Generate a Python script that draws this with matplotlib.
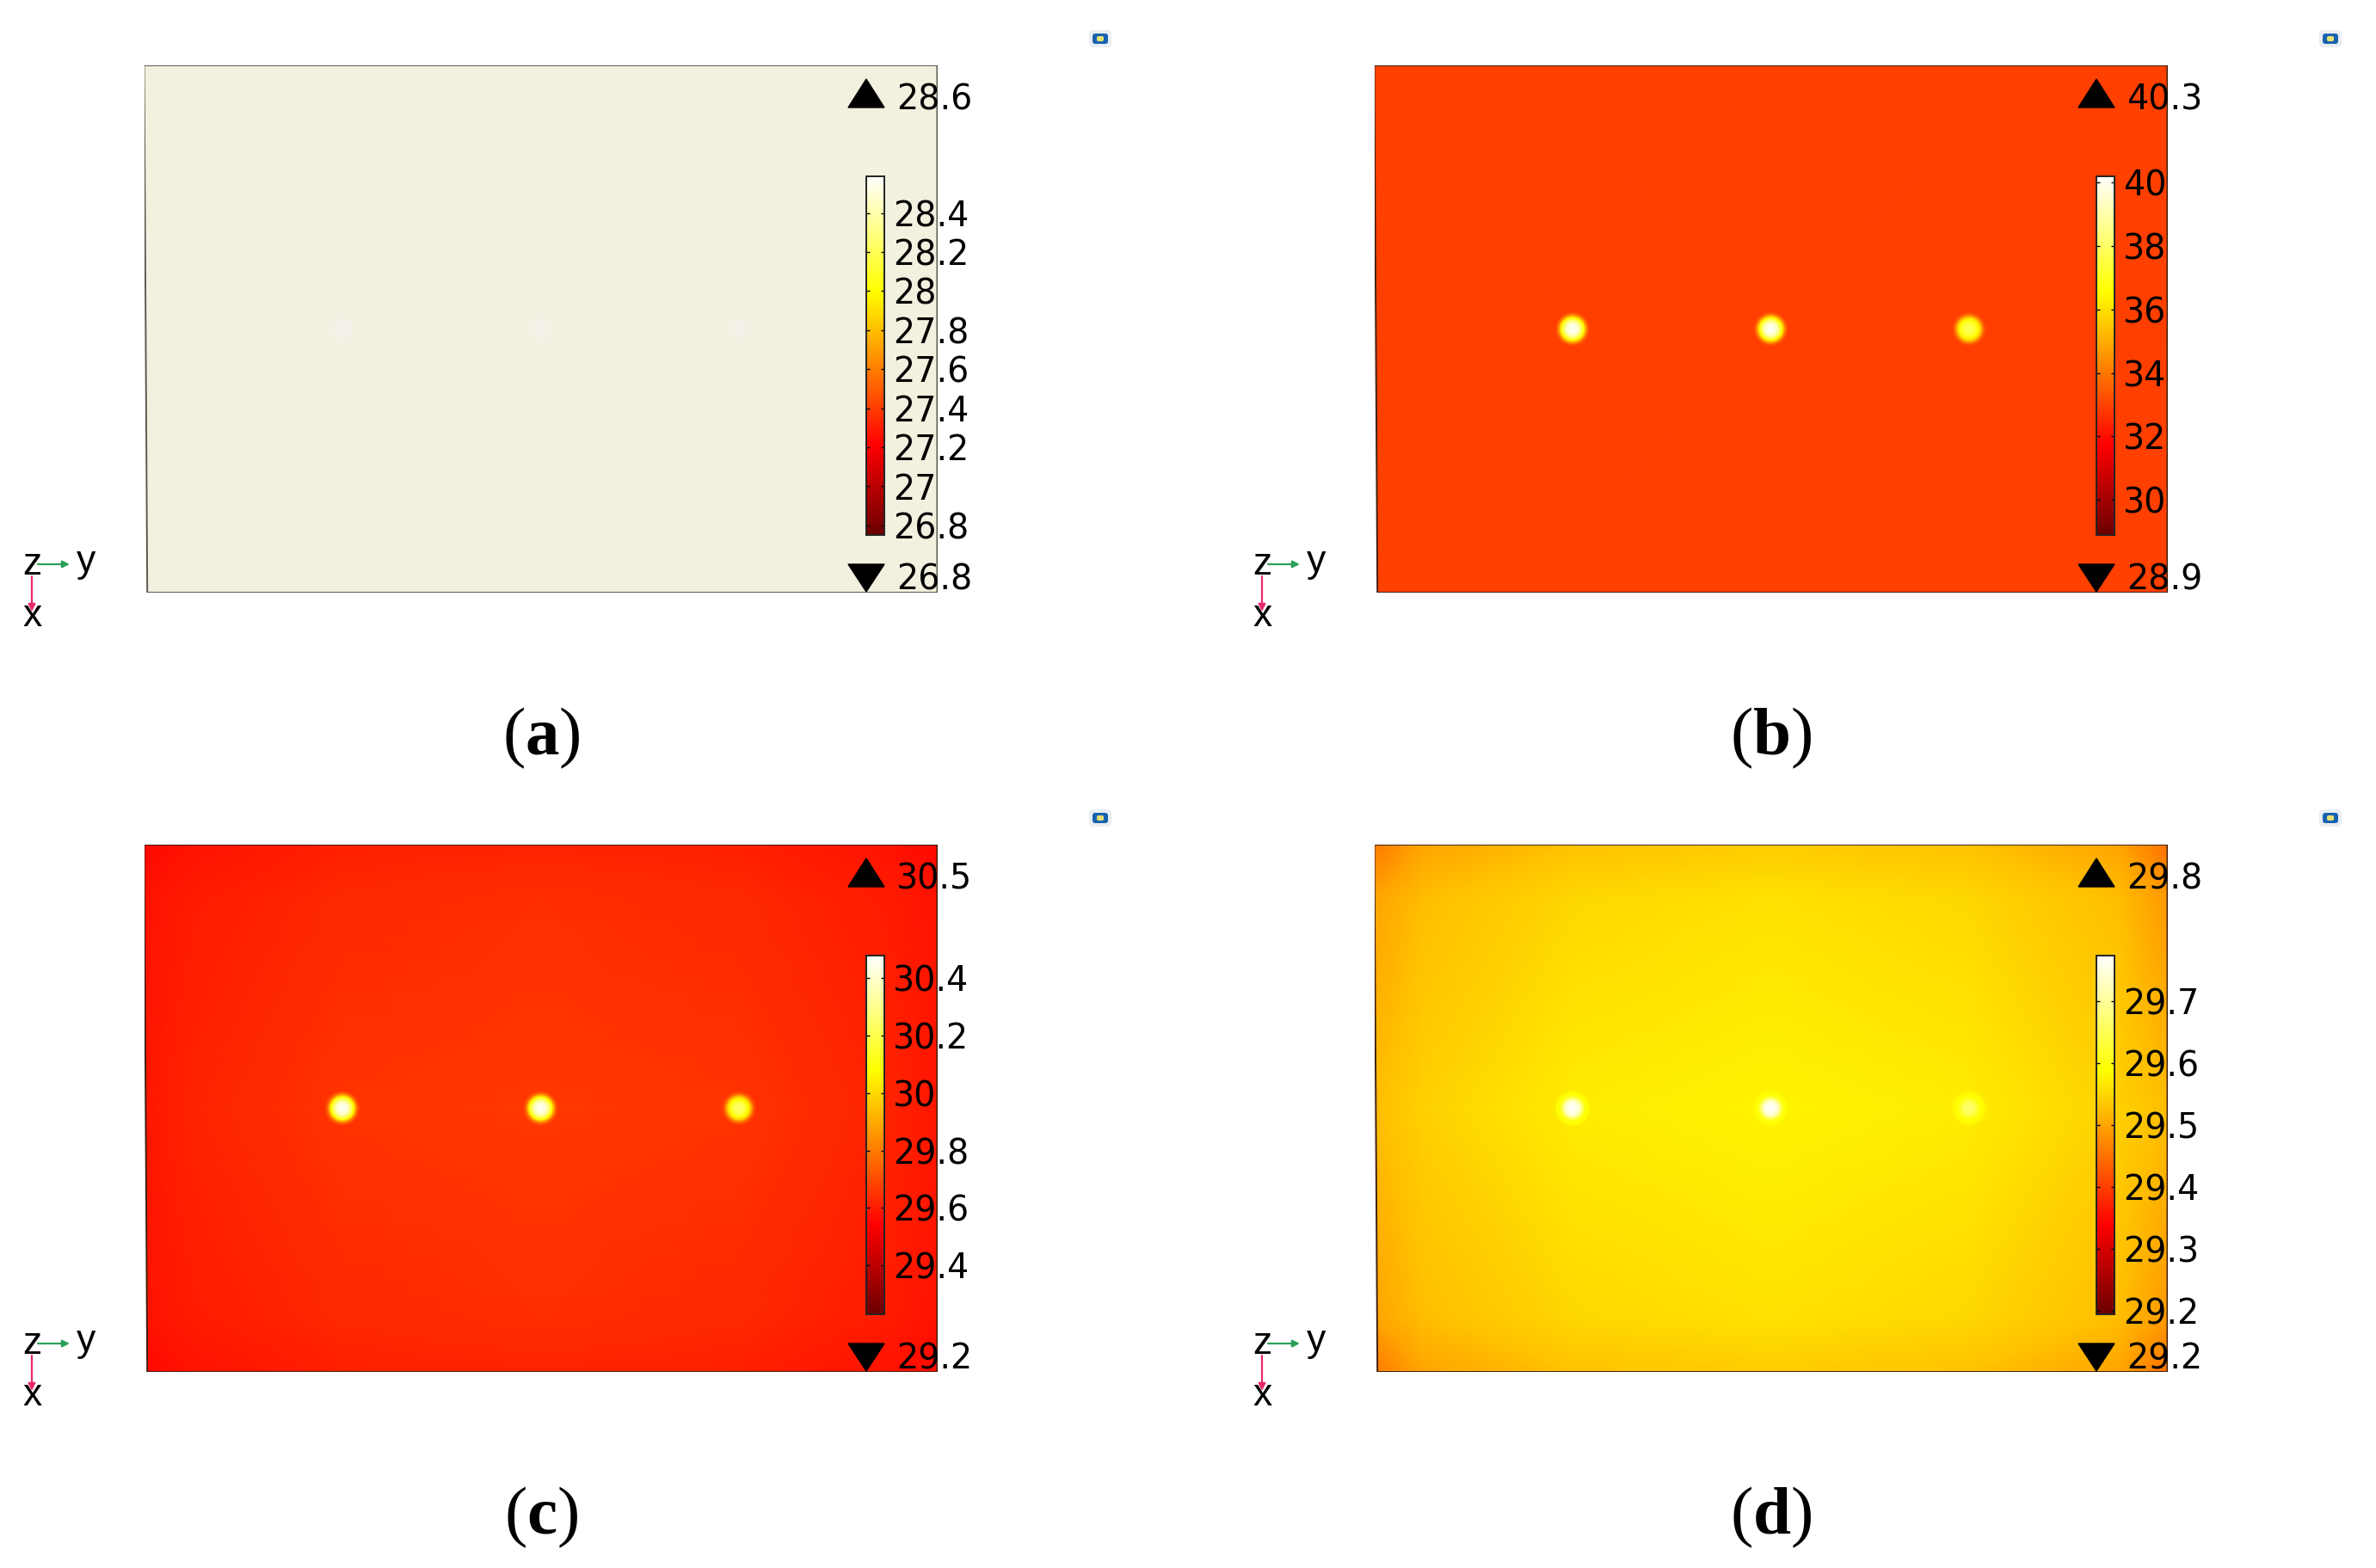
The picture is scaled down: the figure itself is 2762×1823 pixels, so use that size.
import matplotlib
matplotlib.use('Agg')
import matplotlib.pyplot as plt
from matplotlib.cm import ScalarMappable
from matplotlib.colors import LinearSegmentedColormap, Normalize
from matplotlib.patches import FancyBboxPatch, Polygon

# temperature field on a coarse grid, x and y as fractions of the plate
field_x = [0, 0.06, 0.25, 0.5, 0.75, 0.94, 1]
field_y = [0, 0.1, 0.5, 0.9, 1]

field_a = [[27.0, 27.0, 27.0, 27.0, 27.0, 27.0, 27.0],
           [27.0, 27.0, 27.0, 27.0, 27.0, 27.0, 27.0],
           [27.0, 27.0, 27.0, 27.0, 27.0, 27.0, 27.0],
           [27.0, 27.0, 27.0, 27.0, 27.0, 27.0, 27.0],
           [27.0, 27.0, 27.0, 27.0, 27.0, 27.0, 27.0]]
field_b = [[32.98, 32.96, 32.94, 32.94, 32.94, 32.96, 32.98],
           [32.96, 32.94, 32.92, 32.90, 32.92, 32.94, 32.96],
           [32.94, 32.92, 32.90, 32.90, 32.90, 32.92, 32.94],
           [32.96, 32.94, 32.92, 32.90, 32.92, 32.94, 32.96],
           [32.98, 32.96, 32.94, 32.94, 32.94, 32.96, 32.98]]
field_c = [[29.56, 29.58, 29.61, 29.62, 29.61, 29.58, 29.56],
           [29.58, 29.60, 29.63, 29.64, 29.63, 29.60, 29.58],
           [29.59, 29.62, 29.65, 29.66, 29.65, 29.62, 29.59],
           [29.58, 29.60, 29.63, 29.64, 29.63, 29.60, 29.58],
           [29.56, 29.58, 29.61, 29.62, 29.61, 29.58, 29.56]]
field_d = [[29.46, 29.50, 29.53, 29.54, 29.53, 29.50, 29.45],
           [29.50, 29.525, 29.55, 29.56, 29.55, 29.525, 29.49],
           [29.525, 29.545, 29.57, 29.58, 29.57, 29.545, 29.525],
           [29.50, 29.525, 29.55, 29.56, 29.55, 29.525, 29.49],
           [29.46, 29.50, 29.53, 29.54, 29.53, 29.50, 29.45]]

# heat sources and their radial temperature profiles (px from centre)
spot_x = [0.25, 0.5, 0.75]
spot_y = [0.5, 0.5, 0.5]
spot_r = [20, 18, 16, 14, 12, 10, 8, 6, 3]

spot_a = [[27.1, 27.3, 27.6, 27.8, 28.0, 28.2, 28.4, 28.5, 28.6],
          [27.1, 27.3, 27.5, 27.7, 27.9, 28.1, 28.3, 28.4, 28.5],
          [27.1, 27.2, 27.4, 27.6, 27.8, 28.0, 28.2, 28.3, 28.4]]
spot_b = [[33.2, 34.0, 35.2, 36.5, 37.6, 38.6, 39.3, 39.8, 40.0],
          [33.2, 34.0, 35.2, 36.5, 37.6, 38.6, 39.3, 39.8, 40.0],
          [33.1, 33.7, 34.7, 35.8, 36.4, 36.9, 37.3, 37.6, 37.8]]
spot_c = [[29.70, 29.78, 29.93, 30.08, 30.20, 30.30, 30.38, 30.43, 30.46],
          [29.70, 29.78, 29.93, 30.08, 30.20, 30.30, 30.38, 30.43, 30.46],
          [29.68, 29.74, 29.86, 29.98, 30.06, 30.12, 30.18, 30.22, 30.25]]
spot_d = [[29.585, 29.59, 29.60, 29.63, 29.68, 29.72, 29.75, 29.76, 29.77],
          [29.585, 29.59, 29.60, 29.63, 29.68, 29.72, 29.75, 29.76, 29.77],
          [29.58, 29.585, 29.59, 29.595, 29.61, 29.63, 29.65, 29.66, 29.67]]

# colour range, colour bar ticks and min/max readouts
range_a = [26.75, 28.59]
range_b = [28.9, 40.2]
range_c = [29.23, 30.48]
range_d = [29.195, 29.775]

ticks_a = [26.8, 27, 27.2, 27.4, 27.6, 27.8, 28, 28.2, 28.4]
ticks_b = [30, 32, 34, 36, 38, 40]
ticks_c = [29.4, 29.6, 29.8, 30, 30.2, 30.4]
ticks_d = [29.2, 29.3, 29.4, 29.5, 29.6, 29.7]

labels_a = ['26.8', '27', '27.2', '27.4', '27.6', '27.8', '28', '28.2', '28.4']
labels_b = ['30', '32', '34', '36', '38', '40']
labels_c = ['29.4', '29.6', '29.8', '30', '30.2', '30.4']
labels_d = ['29.2', '29.3', '29.4', '29.5', '29.6', '29.7']

max_labels = ['28.6', '40.3', '30.5', '29.8']
min_labels = ['26.8', '28.9', '29.2', '29.2']
captions = ['a', 'b', 'c', 'd']

W, H = 2762, 1823
DX, DY = 1430, 906
FS = 28.5

plt.rcParams['font.family'] = 'DejaVu Sans'
plt.rcParams['mathtext.fontset'] = 'custom'
plt.rcParams['mathtext.rm'] = 'Liberation Serif'
plt.rcParams['mathtext.bf'] = 'Liberation Serif:bold'

thermal = LinearSegmentedColormap.from_list(
    'thermal', [(0, '#6b0000'), (0.25, '#ff0000'), (0.68, '#ffff00'), (1, '#ffffff')], N=512)
beige = LinearSegmentedColormap.from_list('beige', ['#f2f0dc', '#f3f1ea'])


def px_axes(fig, x0, y0, x1, y1, **kw):
    return fig.add_axes([x0 / W, 1 - y1 / H, (x1 - x0) / W, (y1 - y0) / H], **kw)


def draw_panel(fig, over, col, row, field, spots, vrange, ticks, labels, maxl, minl, cap, field_cmap):
    ox, oy = col * DX, row * DY
    norm = Normalize(vrange[0], vrange[1])

    ax = px_axes(fig, 167.5 + ox, 76 + oy, 1089.5 + ox, 689 + oy)
    ax.set_xlim(0, 1)
    ax.set_ylim(1, 0)
    ax.axis('off')
    plate = Polygon([(0, 0), (1, 0), (1, 1), (0.004, 1)], closed=True, facecolor='none',
                    edgecolor='#5a5a50' if col + row == 0 else '#402010', linewidth=1.4, zorder=5)
    ax.add_patch(plate)
    mesh = ax.pcolormesh(field_x, field_y, field, shading='gouraud', cmap=field_cmap, norm=norm)
    mesh.set_clip_path(plate)

    for i, r in enumerate(spot_r):
        size = (2 * r * 0.72) ** 2
        temps = [s[i] for s in spots]
        ax.scatter(spot_x, spot_y, s=size, c=temps, cmap=field_cmap, norm=norm, linewidths=0, zorder=3)

    cax = px_axes(fig, 1007 + ox, 204.5 + oy, 1028 + ox, 622 + oy, zorder=4)
    cb = fig.colorbar(ScalarMappable(norm=norm, cmap=thermal), cax=cax)
    cb.set_ticks(ticks, labels=labels)
    cb.minorticks_off()
    cb.outline.set_linewidth(1.4)
    cb.outline.set_edgecolor('#222222')
    cax.tick_params(axis='y', direction='in', length=3, width=1, left=True, right=True,
                    pad=7, labelsize=FS)

    over.add_patch(Polygon([(986 + ox, 125 + oy), (1028 + ox, 125 + oy), (1007 + ox, 92 + oy)],
                           closed=True, color='black'))
    over.add_patch(Polygon([(986 + ox, 656 + oy), (1028 + ox, 656 + oy), (1007 + ox, 688 + oy)],
                           closed=True, color='black'))
    over.text(1042 + ox, 116 + oy, maxl, fontsize=FS, va='center', ha='left')
    over.text(1042 + ox, 675 + oy, minl, fontsize=FS, va='center', ha='left')

    # little coordinate triad
    over.annotate('', xy=(81 + ox, 656 + oy), xytext=(44 + ox, 656 + oy),
                  arrowprops=dict(arrowstyle='-|>', color='#2ca05a', lw=1.6, mutation_scale=12,
                                  shrinkA=0, shrinkB=0))
    over.annotate('', xy=(37 + ox, 711 + oy), xytext=(37 + ox, 670 + oy),
                  arrowprops=dict(arrowstyle='-|>', color='#e8286e', lw=1.6, mutation_scale=12,
                                  shrinkA=0, shrinkB=0))
    over.text(37 + ox, 657 + oy, 'z', fontsize=32, family='Liberation Sans', ha='center', va='center')
    over.text(100 + ox, 653 + oy, 'y', fontsize=32, family='Liberation Sans', ha='center', va='center')
    over.text(38 + ox, 717 + oy, 'x', fontsize=32, family='Liberation Sans', ha='center', va='center')

    # app icon in the corner
    over.add_patch(FancyBboxPatch((1269 + ox, 38 + oy), 20, 14, boxstyle='round,pad=3,rounding_size=5',
                                  facecolor='#e8eef2', edgecolor='none'))
    over.add_patch(FancyBboxPatch((1271 + ox, 40 + oy), 16, 10, boxstyle='round,pad=1,rounding_size=3',
                                  facecolor='#1a62b0', edgecolor='none'))
    over.add_patch(FancyBboxPatch((1275 + ox, 42 + oy), 8, 6, boxstyle='round,pad=0,rounding_size=2',
                                  facecolor='#e8e070', edgecolor='none'))

    over.text(629 + ox, 858 + oy, r'$\mathrm{(}\mathbf{' + cap + r'}\mathrm{)}$', fontsize=57,
              ha='center', va='center')


fig = plt.figure(figsize=(W / 100, H / 100), dpi=100, facecolor='white')
over = fig.add_axes([0, 0, 1, 1], zorder=3)
over.set_xlim(0, W)
over.set_ylim(H, 0)
over.axis('off')
over.patch.set_alpha(0)

draw_panel(fig, over, 0, 0, field_a, spot_a, range_a, ticks_a, labels_a, max_labels[0], min_labels[0], captions[0], beige)
draw_panel(fig, over, 1, 0, field_b, spot_b, range_b, ticks_b, labels_b, max_labels[1], min_labels[1], captions[1], thermal)
draw_panel(fig, over, 0, 1, field_c, spot_c, range_c, ticks_c, labels_c, max_labels[2], min_labels[2], captions[2], thermal)
draw_panel(fig, over, 1, 1, field_d, spot_d, range_d, ticks_d, labels_d, max_labels[3], min_labels[3], captions[3], thermal)

fig.savefig('out.png', dpi=100)
